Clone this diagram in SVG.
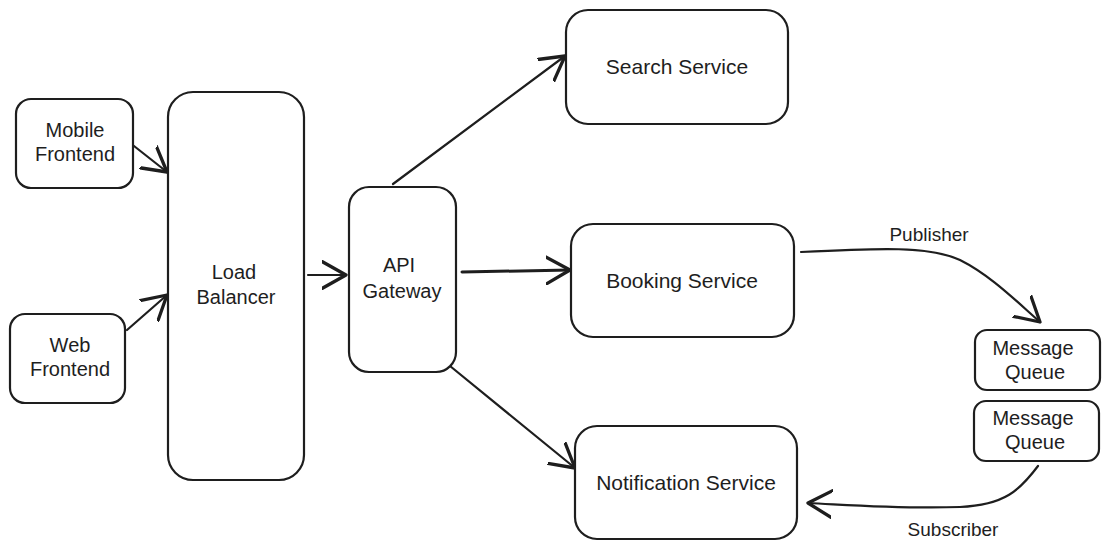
<svg xmlns="http://www.w3.org/2000/svg" width="1109" height="553" viewBox="0 0 1109 553">
<style>
.n{fill:#fff;stroke:#1e1e1e;stroke-width:2.2}
.t{font-family:"Liberation Sans",Arial,sans-serif;font-size:20px;fill:#1e1e1e;text-anchor:middle;dominant-baseline:central}
.c{fill:none;stroke:#1e1e1e;stroke-width:2.2;stroke-linecap:round}
</style>
<defs>
<marker id="a" markerUnits="userSpaceOnUse" markerWidth="30" markerHeight="30" refX="16" refY="10" orient="auto" viewBox="0 0 20 20">
<path d="M0,1 L16,10 L0,19" fill="none" stroke="#1e1e1e" stroke-width="2.2" stroke-linecap="round" stroke-linejoin="round"/>
</marker>
</defs>
<rect width="1109" height="553" fill="#fff"/>
<g id="connectors">
<path class="c" marker-end="url(#a)" d="M134,146 L167,172"/>
<path class="c" marker-end="url(#a)" d="M127,330 L167,295"/>
<path class="c" marker-end="url(#a)" d="M308,275 L346,275"/>
<path class="c" marker-end="url(#a)" d="M393,184 L565,56"/>
<path class="c" marker-end="url(#a)" d="M462,272 L570,270" style="stroke-width:3"/>
<path class="c" marker-end="url(#a)" d="M450,366 L575,468"/>
<path class="c" marker-end="url(#a)" d="M801,252 C880,248 930,246 960,260 C990,275 1015,300 1040,322"/>
<path class="c" marker-end="url(#a)" d="M1038,466 C1020,490 1005,505 960,507 C900,509 850,505 808,503"/>
</g>
<g id="label-publisher"><text class="t" x="929" y="234" style="font-size:19px">Publisher</text></g>
<g id="label-subscriber"><text class="t" x="953" y="529" style="font-size:19px">Subscriber</text></g>
<g id="mobile-frontend">
<rect class="n" x="16" y="99" width="117" height="89" rx="15"/>
<text class="t" x="75" y="130">Mobile</text><text class="t" x="75" y="154">Frontend</text>
</g>
<g id="web-frontend">
<rect class="n" x="10" y="314" width="115" height="89" rx="15"/>
<text class="t" x="70" y="345">Web</text><text class="t" x="70" y="369">Frontend</text>
</g>
<g id="load-balancer">
<rect class="n" x="168" y="92" width="136" height="388" rx="25"/>
<text class="t" x="234" y="272">Load</text><text class="t" x="236" y="297">Balancer</text>
</g>
<g id="api-gateway">
<rect class="n" x="349" y="187" width="107" height="185" rx="20"/>
<text class="t" x="399" y="265">API</text><text class="t" x="402" y="291">Gateway</text>
</g>
<g id="search-service">
<rect class="n" x="566" y="10" width="222" height="114" rx="22"/>
<text class="t" x="677" y="66" style="font-size:21px">Search Service</text>
</g>
<g id="booking-service">
<rect class="n" x="571" y="224" width="223" height="113" rx="22"/>
<text class="t" x="682" y="280" style="font-size:21px">Booking Service</text>
</g>
<g id="notification-service">
<rect class="n" x="575" y="426" width="222" height="113" rx="22"/>
<text class="t" x="686" y="482" style="font-size:21px">Notification Service</text>
</g>
<g id="message-queue-1">
<rect class="n" x="975" y="330" width="125" height="60" rx="12"/>
<text class="t" x="1033" y="348">Message</text><text class="t" x="1035" y="372">Queue</text>
</g>
<g id="message-queue-2">
<rect class="n" x="974" y="401" width="125" height="60" rx="12"/>
<text class="t" x="1033" y="418">Message</text><text class="t" x="1035" y="442">Queue</text>
</g>
</svg>
